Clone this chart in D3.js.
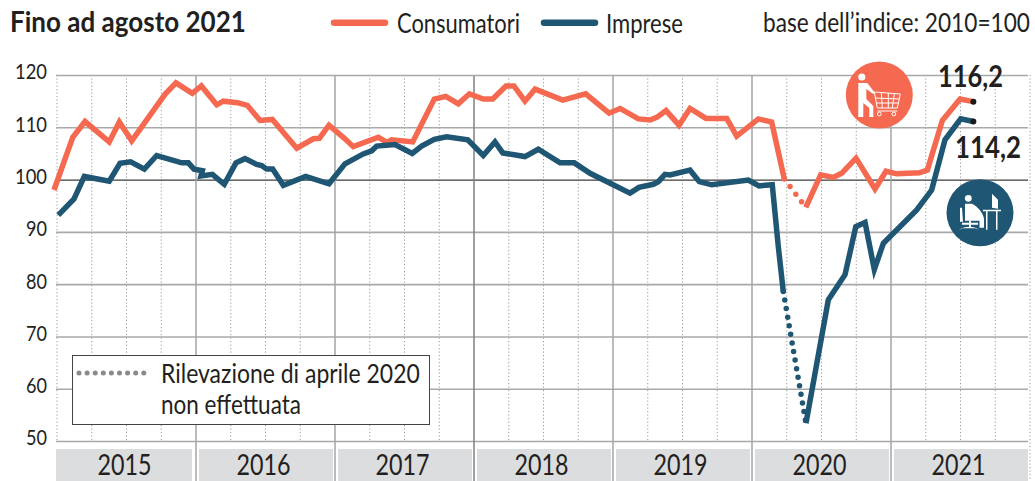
<!DOCTYPE html>
<html>
<head>
<meta charset="utf-8">
<script src="https://cdn.jsdelivr.net/npm/d3@7"></script>
<style>
  body { margin: 0; background: #fff; }
  svg { display: block; }
  text { font-family: "Lato", "Roboto", sans-serif; fill: #231f20; }
</style>
</head>
<body>
<svg id="chart"></svg>
<script>
const years = [2015, 2016, 2017, 2018, 2019, 2020, 2021];
const yTicks = [50, 60, 70, 80, 90, 100, 110, 120];

// months since January 2015
const consumerMonths = [-0.26, 1.36, 2.42, 4.51, 5.38, 6.45, 9.32, 10.27, 11.68, 12.46, 13.79, 14.36, 15.57, 16.43, 17.53, 18.59, 20.7, 22.13, 22.65, 23.48, 24.86, 25.58, 27.74, 28.47, 28.9, 30.71, 32.57, 33.56, 34.65, 35.6, 36.8, 37.62, 38.76, 39.45, 40.4, 41.27, 43.66, 45.64, 47.66, 48.61, 50.19, 51.2, 51.78, 52.58, 53.7, 54.65, 56.03, 57.82, 58.68, 60.55, 61.7, 62.79, 64.64, 65.93, 67.02, 67.74, 68.98, 70.62, 71.57, 72.49, 74.45, 75.14, 76.43, 77.96, 79.11];
const consumerValues = [98.0, 108.1, 111.1, 107.2, 111.0, 107.4, 116.3, 118.5, 116.5, 117.9, 114.3, 115.0, 114.7, 114.2, 111.3, 111.5, 106.0, 107.8, 107.9, 110.4, 107.8, 106.3, 108.1, 107.1, 107.6, 107.2, 115.4, 115.9, 114.5, 116.4, 115.4, 115.4, 117.9, 117.9, 115.0, 117.3, 115.2, 116.4, 112.7, 113.6, 111.6, 111.4, 111.9, 113.2, 110.4, 113.6, 111.7, 111.7, 108.3, 111.6, 111.0, 100.1, 94.7, 100.9, 100.4, 101.2, 104.1, 98.2, 101.6, 101.1, 101.3, 101.8, 111.3, 115.4, 114.9];
const consumerGapStart = 51; // last point before the missing April 2020 survey

const businessMonths = [0.11, 1.47, 2.36, 4.51, 5.44, 6.36, 7.54, 8.61, 10.77, 11.34, 11.83, 12.55, 12.43, 13.41, 14.44, 15.45, 16.23, 17.24, 17.67, 18.1, 18.62, 19.54, 21.47, 23.48, 24.86, 26.44, 27.17, 27.6, 29.18, 30.67, 31.48, 32.57, 33.64, 35.46, 36.8, 37.81, 38.48, 40.4, 41.55, 43.43, 44.66, 46.02, 49.47, 50.24, 51.48, 51.91, 52.49, 52.92, 54.65, 55.45, 56.52, 59.68, 60.61, 61.75, 62.27, 62.7, 64.66, 66.59, 68.03, 68.96, 69.76, 70.56, 71.34, 74.22, 75.51, 76.66, 78.02, 79.11];
const businessValues = [93.2, 96.3, 100.6, 99.7, 103.1, 103.4, 102.0, 104.6, 103.2, 103.2, 102.0, 101.7, 100.7, 101.0, 99.1, 103.2, 104.0, 102.9, 102.7, 102.0, 102.0, 98.9, 100.6, 99.2, 103.0, 104.9, 105.5, 106.4, 106.7, 105.0, 106.4, 107.7, 108.2, 107.6, 104.6, 107.2, 105.1, 104.4, 105.8, 103.2, 103.2, 101.2, 97.4, 98.5, 99.1, 99.6, 101.0, 100.9, 101.8, 99.6, 99.0, 99.9, 98.8, 99.0, 87.2, 78.6, 53.4, 77.0, 81.8, 91.0, 91.8, 82.8, 87.8, 94.2, 98.0, 107.6, 111.6, 111.1];
const businessGapStart = 55;

const consumerColor = "#f4694f";
const businessColor = "#1f5673";
const width = 1035, height = 481;

const svg = d3.select("#chart").attr("width", width).attr("height", height);

const xScale = d3.scaleLinear().domain([0, 84]).range([57, 1030]);
const yScale = d3.scaleLinear().domain([50, 120]).range([441, 75]);

// the original face is a narrow one, so labels are squeezed to their measured width
function squeeze(sel, x, y, len) {
    const natural = sel.node().getComputedTextLength();
    sel.attr("transform", `translate(${x},${y}) scale(${len / natural},1)`);
    return sel;
}

function label(x, y, str, size, len, bold) {
    const t = svg.append("text")
        .attr("font-size", size)
        .attr("font-weight", bold ? "bold" : null)
        .text(str);
    return squeeze(t, x, y, len);
}

// quarter lines, dotted
svg.append("g").selectAll("line")
    .data(d3.range(0, 85, 3).filter(d => d % 12 !== 0 || d === 0))
    .join("line")
    .attr("x1", d => xScale(d)).attr("x2", d => xScale(d))
    .attr("y1", 75).attr("y2", 441)
    .attr("stroke", "#999")
    .attr("stroke-width", 1)
    .attr("stroke-dasharray", "1.2 2.3");

svg.append("line")
    .attr("x1", xScale(84)).attr("x2", xScale(84))
    .attr("y1", 75).attr("y2", 481)
    .attr("stroke", "#999")
    .attr("stroke-dasharray", "1.2 2.3");

// year bands
const bandGap = 3;
svg.append("g").selectAll("rect")
    .data(years)
    .join("rect")
    .attr("x", d => xScale((d - 2015) * 12) + (d === 2015 ? -1 : bandGap))
    .attr("y", 449)
    .attr("width", d => xScale((d - 2014) * 12) - xScale((d - 2015) * 12) - (d === 2015 ? 3 : bandGap * 2 - 1))
    .attr("height", 32)
    .attr("fill", "#dcddde");

// horizontal grid through the y axis
const yAxis = d3.axisLeft(yScale)
    .tickValues(yTicks)
    .tickSize(-(1028 - 56))
    .tickPadding(9);
const yAxisG = svg.append("g")
    .attr("class", "axis y-axis")
    .attr("transform", "translate(56,0)")
    .call(yAxis);
yAxisG.select(".domain").remove();
yAxisG.selectAll(".tick line")
    .attr("stroke", d => d === 100 ? "#3c3c3c" : "#a9a9a9")
    .attr("stroke-width", d => d === 100 ? 1.2 : 1.6);
yAxisG.selectAll(".tick text")
    .attr("font-family", "Lato")
    .attr("font-size", 22)
    .attr("dy", "0.18em")
    .attr("textLength", d => d >= 100 ? 32 : 21)
    .attr("lengthAdjust", "spacingAndGlyphs")
    .style("fill", "#231f20");

// year separators
svg.append("g").selectAll("line")
    .data(years.slice(1))
    .join("line")
    .attr("x1", d => xScale((d - 2015) * 12)).attr("x2", d => xScale((d - 2015) * 12))
    .attr("y1", 76).attr("y2", height)
    .attr("stroke", d => d === 2018 ? "#808080" : "#a5a5a5")
    .attr("stroke-width", 1.5);

svg.append("g").selectAll("text")
    .data(years)
    .join("text")
    .attr("x", d => xScale((d - 2015) * 12 + 6) - 2)
    .attr("y", 475)
    .attr("text-anchor", "middle")
    .attr("font-size", 28)
    .attr("textLength", 54)
    .attr("lengthAdjust", "spacingAndGlyphs")
    .text(d => d);

// series
const lineGen = d3.line().x(d => xScale(d[0])).y(d => yScale(d[1]));

function drawSeries(months, values, gapStart, color, dash) {
    const pts = months.map((m, i) => [m, values[i]]);
    const pieces = [pts.slice(0, gapStart + 1), pts.slice(gapStart + 1)];
    pieces.forEach(p => {
        svg.append("path")
            .attr("d", lineGen(p))
            .attr("fill", "none")
            .attr("stroke", color)
            .attr("stroke-width", 5.5)
            .attr("stroke-linejoin", "miter")
            .attr("stroke-linecap", "butt");
    });
    svg.append("path")
        .attr("d", lineGen(pts.slice(gapStart, gapStart + 2)))
        .attr("fill", "none")
        .attr("stroke", color)
        .attr("stroke-width", 5.5)
        .attr("stroke-linecap", "round")
        .attr("stroke-dasharray", dash);
}
drawSeries(consumerMonths, consumerValues, consumerGapStart, consumerColor, "0 9.5");
drawSeries(businessMonths, businessValues, businessGapStart, businessColor, "0 8.7");

// end points
svg.append("g").selectAll("circle")
    .data([[consumerMonths, consumerValues], [businessMonths, businessValues]])
    .join("circle")
    .attr("cx", d => xScale(d[0][d[0].length - 1]))
    .attr("cy", d => yScale(d[1][d[1].length - 1]))
    .attr("r", 3)
    .attr("fill", "#1a1a1a");

label(938, 87.3, "116,2", 31, 65, true);
label(955, 157.5, "114,2", 31, 66, true);

// shopper icon
const shopper = svg.append("g").attr("transform", "translate(879.3,95)");
shopper.append("circle").attr("r", 33.5).attr("fill", consumerColor);
shopper.append("circle").attr("cx", -17.5).attr("cy", -18).attr("r", 3.6).attr("fill", "#fff");
shopper.append("path")
    .attr("d", "M-21,-12L-12,-12L-5,-3L-6,-1L-13,-6L-13,4L-6,11L-6,22L-10,22L-10,13L-16,8L-16,22L-21,22Z")
    .attr("fill", "#fff");
shopper.append("path")
    .attr("d", "M-5,-3L21,-1L18,13L-2,13ZM2,-3L3,13M9,-2L9,13M15,-1L13,13M-4,3L20,4M-3,8L19,8M-2,16L18,16")
    .attr("fill", "none").attr("stroke", "#fff").attr("stroke-width", 1);
shopper.append("g").selectAll("circle").data([0, 14.5]).join("circle")
    .attr("cx", d => d).attr("cy", 19).attr("r", 1.9)
    .attr("fill", "none").attr("stroke", "#fff").attr("stroke-width", 1);

// office icon
const office = svg.append("g").attr("transform", "translate(980,212.7)");
office.append("circle").attr("r", 33.5).attr("fill", businessColor);
office.append("circle").attr("cx", -11.7).attr("cy", -14.4).attr("r", 3.4).attr("fill", "#fff");
office.append("path")
    .attr("d", "M-15,-9L-8,-9C-2,-6,3,0,4,6L4,15L-0.5,15L-0.5,8L-15,8Z")
    .attr("fill", "#fff");
office.append("path")
    .attr("d", "M-20,-5L-18,-5L-17,9L-20,9ZM-11,8L-9,8L-9,14L-11,14ZM-18,10L-2,10L-2,12L-18,12ZM-21,17C-15,13,-6,13,-1,17L-5,15.5L-17,15.5ZM3,-3L21,-3L21,-1.5L3,-1.5ZM6,-1.5L7.5,-1.5L7.5,17L6,17ZM16,-1.5L17.5,-1.5L17.5,17L16,17ZM12,-19L18,-13L18,-4L12,-5Z")
    .attr("fill", "#fff");

// note box
svg.append("rect")
    .attr("x", 72.5).attr("y", 355.5)
    .attr("width", 357).attr("height", 69)
    .attr("fill", "#fff").attr("stroke", "#444").attr("stroke-width", 1);
svg.append("line")
    .attr("x1", 79).attr("x2", 144).attr("y1", 373).attr("y2", 373)
    .attr("stroke", "#8a8a8a").attr("stroke-width", 5)
    .attr("stroke-linecap", "round").attr("stroke-dasharray", "0 8.1");
label(161, 383, "Rilevazione di aprile 2020", 26, 259);
label(161, 414, "non effettuata", 26, 140);

// header
label(10, 32, "Fino ad agosto 2021", 29, 236, true);

svg.append("line").attr("x1", 334).attr("x2", 385).attr("y1", 22.7).attr("y2", 22.7)
    .attr("stroke", consumerColor).attr("stroke-width", 6.5).attr("stroke-linecap", "round");
label(397, 32.7, "Consumatori", 27, 123);
svg.append("line").attr("x1", 544).attr("x2", 595).attr("y1", 22.7).attr("y2", 22.7)
    .attr("stroke", businessColor).attr("stroke-width", 6.5).attr("stroke-linecap", "round");
label(606, 32.7, "Imprese", 27, 77);
label(763, 32, "base dell’indice: 2010=100", 26, 267);
</script>
</body>
</html>
